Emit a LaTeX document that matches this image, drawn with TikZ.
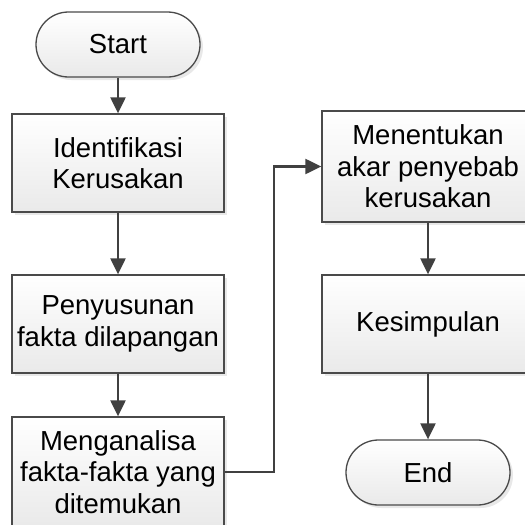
\documentclass[tikz,border=0pt]{standalone}
\usepackage{fontspec}
\setmainfont{Liberation Sans}
\usetikzlibrary{arrows.meta,shadows}
\definecolor{edge}{HTML}{4A4A4A}
\definecolor{arr}{HTML}{404040}
\definecolor{shade}{HTML}{E4E4E4}
\tikzset{
  base/.style={draw=edge, line width=1.3pt, top color=white, bottom color=shade!80,
    drop shadow={shadow xshift=3pt, shadow yshift=-3pt, fill=black!9, opacity=1},
    align=center, inner sep=0pt, font=\fontsize{27.5}{31.6}\selectfont, text=black},
  procbox/.style={base, minimum width=212pt, minimum height=98pt},
  termbox/.style={base, rounded corners=32.5pt, minimum width=164pt, minimum height=65pt},
  flow/.style={draw=arr, line width=2.2pt, -{Triangle[length=16pt,width=15pt]}},
}
\begin{document}
\begin{tikzpicture}[x=1pt,y=-1pt]
\useasboundingbox (0,0) rectangle (525,525);
\clip (0,0) rectangle (525,525);
\node[termbox] (start) at (118,44.5) {Start};
\node[procbox] (ident) at (118,163) {Identifikasi\\Kerusakan};
\node[procbox] (susun) at (118,324) {Penyusunan\\fakta dilapangan};
\node[procbox, minimum height=110pt] (anal) at (118,472) {Menganalisa\\fakta-fakta yang\\ditemukan};
\node[procbox, minimum height=111pt] (akar) at (428,166.5) {Menentukan\\akar penyebab\\kerusakan};
\node[procbox] (simp) at (428,324) {Kesimpulan};
\node[termbox] (end) at (428,472.5) {End};
\draw[flow] (start) -- (ident);
\draw[flow] (ident) -- (susun);
\draw[flow] (susun) -- (anal);
\draw[flow] (anal.east) -- ++(49,0) |- (akar.west);
\draw[flow] (akar) -- (simp);
\draw[flow] (simp) -- (end);
\end{tikzpicture}
\end{document}
